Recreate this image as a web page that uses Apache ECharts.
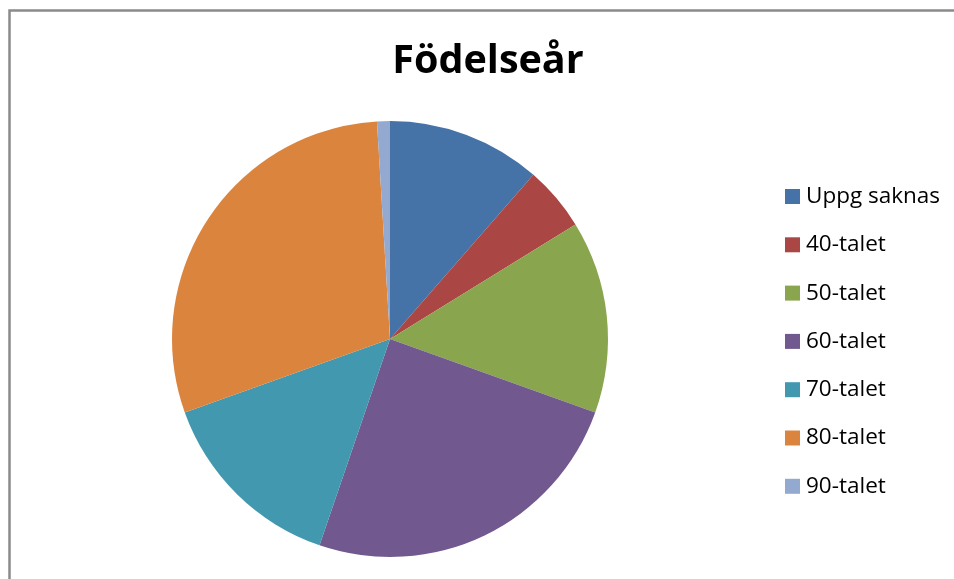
<!DOCTYPE html>
<html>
<head>
<meta charset="utf-8">
<script src="https://cdn.jsdelivr.net/npm/echarts@6/dist/echarts.min.js"></script>
<style>
  html, body { margin: 0; padding: 0; background: #fff; }
  #chart { width: 954px; height: 579px; }
</style>
</head>
<body>
<div id="chart"></div>
<script>
// Födelseår – antal per decennium
const categories = ['Uppg saknas', '40-talet', '50-talet', '60-talet', '70-talet', '80-talet', '90-talet'];
const counts = [12, 5, 15, 26, 15, 31, 1];
const colors = ['#4572A7', '#AA4643', '#89A54E', '#71588F', '#4198AF', '#DB843D', '#93A9CF'];

const chart = echarts.init(document.getElementById('chart'));
chart.setOption({
  backgroundColor: '#ffffff',
  animation: false,
  color: colors,
  title: {
    text: 'Födelseår',
    left: 488,
    top: 42,
    padding: 0,
    textAlign: 'center',
    textStyle: { fontFamily: 'Open Sans', fontWeight: 'bold', fontSize: 39.5, color: '#000' }
  },
  legend: {
    orient: 'vertical',
    left: 785,
    top: 185,
    padding: 0,
    itemWidth: 15,
    itemHeight: 15,
    itemGap: 25.3,
    icon: 'rect',
    textStyle: { fontFamily: 'Open Sans', fontSize: 22.5, lineHeight: 22, color: '#000', padding: [0, 0, 0, 1] },
    data: categories
  },
  graphic: [{
    type: 'rect',
    shape: { x: 9.5, y: 10.5, width: 1000, height: 1000 },
    style: { fill: 'none', stroke: '#8a8a8a', lineWidth: 2.5 },
    silent: true
  }],
  series: [{
    type: 'pie',
    center: [390, 339],
    radius: 218,
    startAngle: 90,
    clockwise: true,
    label: { show: false },
    labelLine: { show: false },
    itemStyle: { borderWidth: 0 },
    emphasis: { disabled: true },
    data: categories.map((name, i) => ({ name, value: counts[i] }))
  }]
});
</script>
</body>
</html>
